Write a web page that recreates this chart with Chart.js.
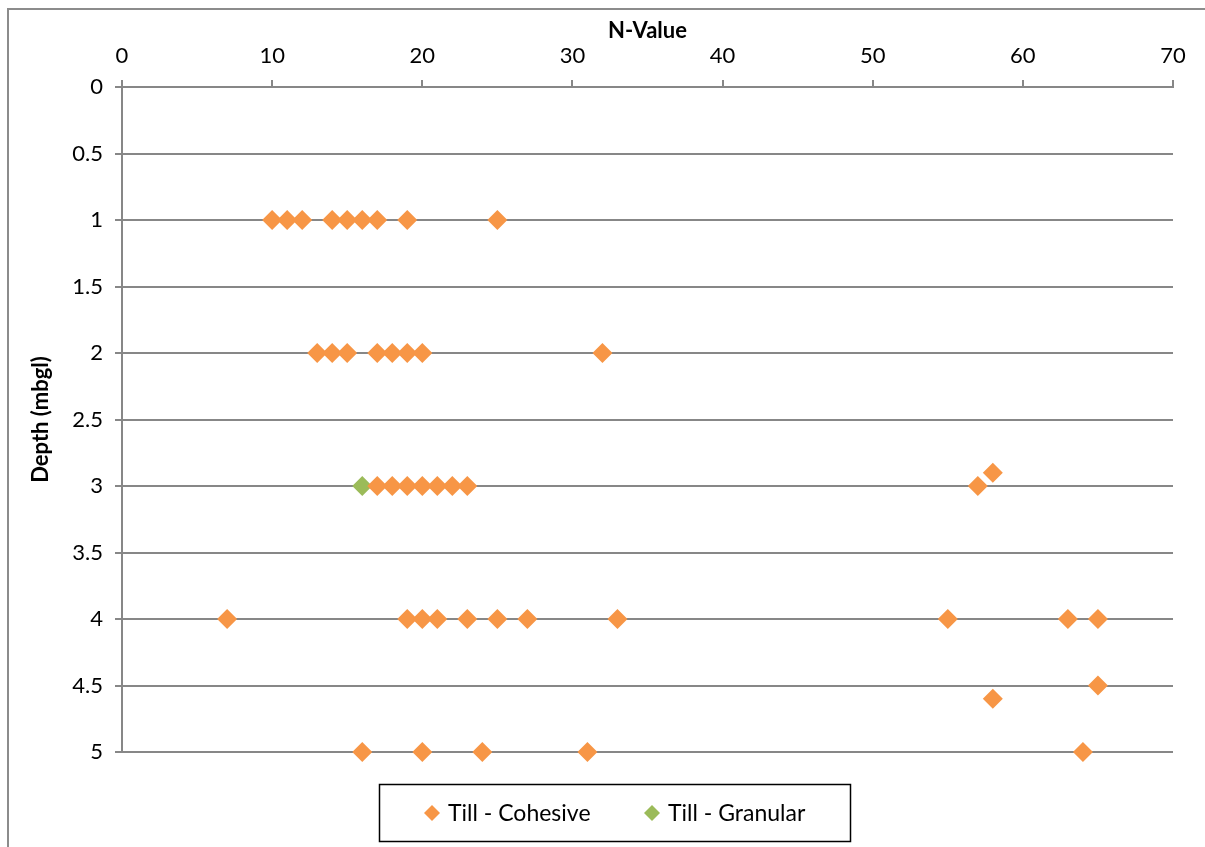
<!DOCTYPE html>
<html>
<head>
<meta charset="utf-8">
<title>N-Value vs Depth</title>
<script src="https://cdn.jsdelivr.net/npm/chart.js@4.4.1/dist/chart.umd.min.js"></script>
<style>
  html, body { margin: 0; padding: 0; background: #fff; }
  canvas { display: block; }
</style>
</head>
<body>
<canvas id="chart" width="1205" height="847"></canvas>
<script>
// SPT results: N-value against depth below ground level
const cohesiveN = [
    10, 11, 12, 14, 15, 16, 17, 19, 25,
    13, 14, 15, 17, 18, 19, 20, 32,
    17, 18, 19, 20, 21, 22, 23, 57, 58,
    7, 19, 20, 21, 23, 25, 27, 33, 55, 63, 65,
    65, 58,
    16, 20, 24, 31, 64
];
const cohesiveDepth = [
    1, 1, 1, 1, 1, 1, 1, 1, 1,
    2, 2, 2, 2, 2, 2, 2, 2,
    3, 3, 3, 3, 3, 3, 3, 3, 2.9,
    4, 4, 4, 4, 4, 4, 4, 4, 4, 4, 4,
    4.5, 4.6,
    5, 5, 5, 5, 5
];
const granularN = [16];
const granularDepth = [3];

const nValueTicks = [0, 10, 20, 30, 40, 50, 60, 70];
const depthTicks = [0, 0.5, 1, 1.5, 2, 2.5, 3, 3.5, 4, 4.5, 5];

const ORANGE = '#F79646';
const GREEN = '#9BBB59';
const GRID = '#878787';
const FONT = 'Lato, "Liberation Sans", sans-serif';

function toPoints(xs, ys) {
    return xs.map((x, i) => ({ x: x, y: ys[i] }));
}

// grey frame around the whole chart
const frame = {
    id: 'frame',
    beforeDraw(chart) {
        const ctx = chart.ctx;
        ctx.save();
        ctx.strokeStyle = '#8c8c8c';
        ctx.lineWidth = 2;
        ctx.strokeRect(8, 9, chart.width + 20, chart.height + 20);
        ctx.restore();
    }
};

// boxed legend under the plot
const boxLegend = {
    id: 'boxLegend',
    afterDraw(chart) {
        const ctx = chart.ctx;
        const box = { x: 379.5, y: 784.5, w: 471, h: 57 };
        const itemX = [432, 652];
        const cy = box.y + box.h / 2;
        ctx.save();
        ctx.strokeStyle = '#000';
        ctx.lineWidth = 1.5;
        ctx.strokeRect(box.x, box.y, box.w, box.h);
        ctx.font = '23px ' + FONT;
        ctx.textBaseline = 'middle';
        chart.data.datasets.forEach((ds, i) => {
            const x = itemX[i];
            ctx.fillStyle = ds.backgroundColor;
            ctx.beginPath();
            ctx.moveTo(x, cy - 8);
            ctx.lineTo(x + 8, cy);
            ctx.lineTo(x, cy + 8);
            ctx.lineTo(x - 8, cy);
            ctx.closePath();
            ctx.fill();
            ctx.fillStyle = '#000';
            ctx.fillText(ds.label, x + 16, cy + 1);
        });
        ctx.restore();
    }
};

new Chart(document.getElementById('chart'), {
    type: 'scatter',
    data: {
        datasets: [
            {
                label: 'Till - Cohesive',
                data: toPoints(cohesiveN, cohesiveDepth),
                backgroundColor: ORANGE,
                borderColor: ORANGE,
                pointStyle: 'rectRot',
                pointRadius: 10,
                pointHoverRadius: 10,
                borderWidth: 0,
                clip: false
            },
            {
                label: 'Till - Granular',
                data: toPoints(granularN, granularDepth),
                backgroundColor: GREEN,
                borderColor: GREEN,
                pointStyle: 'rectRot',
                pointRadius: 10,
                pointHoverRadius: 10,
                borderWidth: 0,
                clip: false
            }
        ]
    },
    options: {
        responsive: false,
        animation: false,
        layout: { padding: { left: 0, top: 0, right: 32, bottom: 95 } },
        plugins: {
            legend: { display: false },
            tooltip: { enabled: false }
        },
        scales: {
            x: {
                type: 'linear',
                position: 'top',
                min: 0,
                max: 70,
                afterBuildTicks: s => { s.ticks = nValueTicks.map(v => ({ value: v })); },
                afterFit: s => { s.height = 87; },
                ticks: {
                    color: '#000',
                    font: { family: FONT, size: 22 },
                    padding: 11,
                    maxRotation: 0
                },
                grid: {
                    drawOnChartArea: false,
                    color: GRID,
                    lineWidth: 2,
                    tickLength: 7
                },
                border: { display: true, color: GRID, width: 2 },
                title: {
                    display: true,
                    text: 'N-Value',
                    color: '#000',
                    font: { family: FONT, size: 22, weight: 'bold' },
                    padding: { top: 18, bottom: 0 }
                }
            },
            y: {
                type: 'linear',
                reverse: true,
                min: 0,
                max: 5,
                afterBuildTicks: s => { s.ticks = depthTicks.map(v => ({ value: v })); },
                afterFit: s => { s.width = 122; },
                ticks: {
                    color: '#000',
                    font: { family: FONT, size: 22 },
                    padding: 12,
                    callback: v => String(v)
                },
                grid: {
                    color: GRID,
                    lineWidth: 2,
                    tickLength: 7
                },
                border: { display: true, color: GRID, width: 2 },
                title: {
                    display: true,
                    text: 'Depth (mbgl)',
                    color: '#000',
                    font: { family: FONT, size: 22, weight: 'bold' },
                    padding: { top: 28, bottom: 0 }
                }
            }
        }
    },
    plugins: [frame, boxLegend]
});
</script>
</body>
</html>
